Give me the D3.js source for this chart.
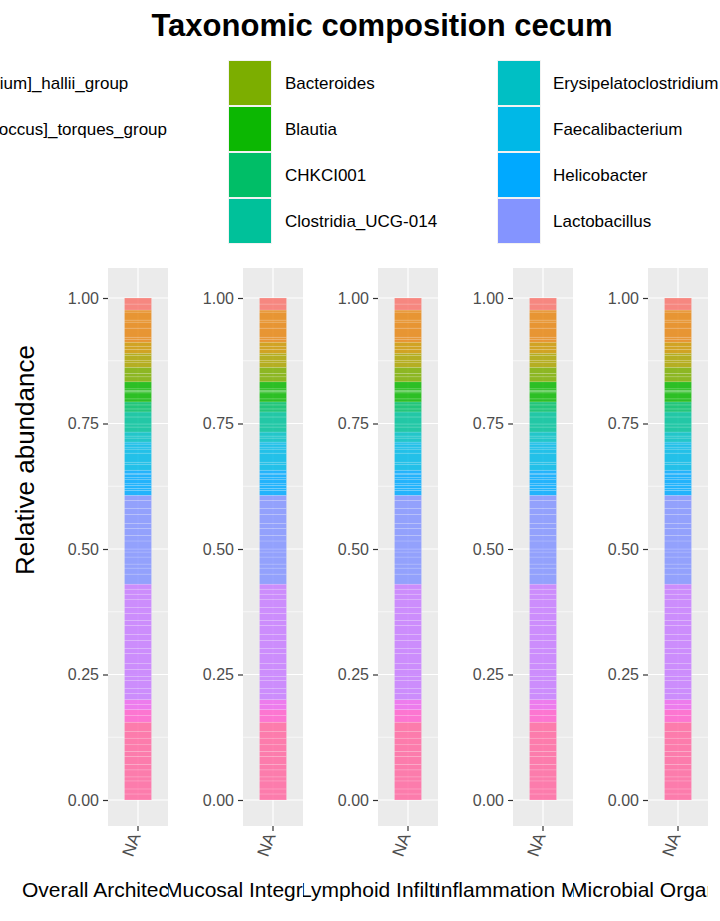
<!DOCTYPE html>
<html>
<head>
<meta charset="utf-8">
<script src="https://cdn.jsdelivr.net/npm/d3@7"></script>
<style>
body { margin: 0; background: #fff; overflow: hidden; }
text { font-family: Arial, "Liberation Sans", sans-serif; }
</style>
</head>
<body>
<script>
const W = 720, H = 921

const genera = ["[Eubacterium]_hallii_group", "[Ruminococcus]_torques_group", "A2", "Alistipes",
    "Bacteroides", "Blautia", "CHKCI001", "Clostridia_UCG-014",
    "Erysipelatoclostridium", "Faecalibacterium", "Helicobacter", "Lactobacillus",
    "Ligilactobacillus", "Muribaculaceae", "Oscillibacter", "uncultured"]

// sub-taxon abundances inside each genus (stacked as thin slices)
const slices = [
    [0.012, 0.012],
    [0.006, 0.004, 0.018, 0.012, 0.004, 0.016, 0.004],
    [0.008, 0.006, 0.008],
    [0.009, 0.004, 0.011, 0.004],
    [0.01, 0.007, 0.012],
    [0.006, 0.012, 0.003, 0.002, 0.003, 0.014],
    [0.006, 0.008, 0.006],
    [0.01, 0.006, 0.014, 0.01],
    [0.008, 0.004, 0.008],
    [0.012, 0.004, 0.018, 0.008, 0.004, 0.006, 0.004],
    [0.01, 0.004, 0.006, 0.003, 0.008, 0.004, 0.006, 0.003, 0.006],
    [0.02, 0.012, 0.008, 0.014, 0.01, 0.006, 0.016, 0.011, 0.014, 0.01, 0.018, 0.012, 0.016, 0.01],
    [0.012, 0.01, 0.016, 0.008, 0.014, 0.012, 0.02, 0.01, 0.016, 0.012, 0.018, 0.01, 0.014, 0.012, 0.016, 0.01, 0.01, 0.01],
    [0.01, 0.01],
    [0.013, 0.012],
    [0.012, 0.01, 0.016, 0.008, 0.014, 0.011, 0.016, 0.01, 0.013, 0.012, 0.015, 0.018]
]

const facets = ["Overall Architecture", "Mucosal Integrity", "Lymphoid Infiltration",
    "Inflammation Markers", "Microbial Organisms"]
const yTicks = [0, 0.25, 0.5, 0.75, 1]

// ggplot-style hue palette (polar LUV, c = 100, l = 65)
function polarLuv(h, c, l) {
    const hr = h * Math.PI / 180
    const u = c * Math.cos(hr), v = c * Math.sin(hr)
    const Xn = 95.047, Yn = 100, Zn = 108.883
    const un = 4 * Xn / (Xn + 15 * Yn + 3 * Zn), vn = 9 * Yn / (Xn + 15 * Yn + 3 * Zn)
    const Y = l > 8 ? Yn * Math.pow((l + 16) / 116, 3) : Yn * l / 903.3
    const up = u / (13 * l) + un, vp = v / (13 * l) + vn
    const X = 9 * Y * up / (4 * vp), Z = Y * (12 - 3 * up - 20 * vp) / (4 * vp)
    const x = X / 100, y = Y / 100, z = Z / 100
    const lin = [3.2406 * x - 1.5372 * y - 0.4986 * z,
        -0.9689 * x + 1.8758 * y + 0.0415 * z,
        0.0557 * x - 0.2040 * y + 1.0570 * z]
    const g = lin.map(t => {
        t = Math.max(0, Math.min(1, t))
        return Math.round(255 * (t <= 0.0031308 ? 12.92 * t : 1.055 * Math.pow(t, 1 / 2.4) - 0.055))
    })
    return d3.rgb(g[0], g[1], g[2]).formatHex()
}

const color = d3.scaleOrdinal().domain(genera)
    .range(genera.map((g, i) => polarLuv(15 + i * 360 / genera.length, 100, 65)))

const svg = d3.select("body").append("svg").attr("width", W).attr("height", H)

// title
svg.append("text").attr("x", 382).attr("y", 36).attr("text-anchor", "middle")
    .style("font-size", "31px").style("font-weight", "bold").text("Taxonomic composition cecum")

// legend, column-major 4 rows
const colX = [-130, 228, 497, 766]
const textX = [-73, 285, 553, 822]
genera.forEach((g, i) => {
    const c = Math.floor(i / 4), r = i % 4
    const y = 60 + r * 46
    svg.append("rect").attr("x", colX[c]).attr("y", y).attr("width", 44).attr("height", 46)
        .attr("fill", "#f2f2f2")
    svg.append("rect").attr("x", colX[c] + 1).attr("y", y + 1).attr("width", 42).attr("height", 44)
        .attr("fill", color(g))
    svg.append("text").attr("x", textX[c]).attr("y", y + 23).attr("dy", "0.35em")
        .style("font-size", "17px").text(g)
})

// stack the slices
const stacked = []
let acc = 0
for (let i = genera.length - 1; i >= 0; i--) {
    slices[i].forEach(v => { stacked.push({ g: genera[i], y0: acc, y1: acc + v }); acc += v })
}

const y = d3.scaleLinear().domain([0, 1]).range([800, 298])
const panelTop = 268, panelBot = 826
const step = 135, pw = 60

svg.append("text").attr("transform", "translate(34,460) rotate(-90)").attr("text-anchor", "middle")
    .style("font-size", "26px").text("Relative abundance")

const defs = svg.append("defs")

facets.forEach((f, k) => {
    const px = 108 + k * step
    const x = d3.scaleBand().domain(["NA"]).range([px, px + pw]).paddingInner(0.1).paddingOuter(0.55)
    const g = svg.append("g")
    g.append("rect").attr("x", px).attr("y", panelTop).attr("width", pw).attr("height", panelBot - panelTop)
        .attr("fill", "#ebebeb")
    ;[0.125, 0.375, 0.625, 0.875].forEach(t => g.append("line").attr("x1", px).attr("x2", px + pw)
        .attr("y1", y(t)).attr("y2", y(t)).attr("stroke", "#fff").attr("stroke-width", 0.6))
    yTicks.forEach(t => g.append("line").attr("x1", px).attr("x2", px + pw)
        .attr("y1", y(t)).attr("y2", y(t)).attr("stroke", "#fff").attr("stroke-width", 1.2))
    const cx = x("NA") + x.bandwidth() / 2
    g.append("line").attr("x1", cx).attr("x2", cx).attr("y1", panelTop).attr("y2", panelBot)
        .attr("stroke", "#fff").attr("stroke-width", 1.2)

    g.selectAll("rect.seg").data(stacked).enter().append("rect").attr("class", "seg")
        .attr("x", x("NA")).attr("width", x.bandwidth())
        .attr("y", d => y(d.y1)).attr("height", d => y(d.y0) - y(d.y1))
        .attr("fill", d => color(d.g)).attr("fill-opacity", 0.85)
        .attr("stroke", "#fff").attr("stroke-opacity", 0.3).attr("stroke-width", 0.5)

    const ya = g.append("g").attr("transform", "translate(" + px + ",0)")
        .call(d3.axisLeft(y).tickValues(yTicks).tickFormat(d3.format(".2f")).tickSize(5).tickPadding(4))
    ya.select(".domain").remove()
    ya.selectAll("line").attr("stroke", "#333").attr("stroke-width", 1.2)
    ya.selectAll("text").style("font-size", "16px").attr("fill", "#4d4d4d")

    const xa = g.append("g").attr("transform", "translate(0," + panelBot + ")")
        .call(d3.axisBottom(x).tickSize(5))
    xa.select(".domain").remove()
    xa.selectAll("line").attr("stroke", "#333").attr("stroke-width", 1.2)
    xa.selectAll("text").attr("transform", "rotate(-70)").attr("text-anchor", "end")
        .attr("x", -8).attr("y", 0).attr("dy", "0.35em").style("font-size", "17px").attr("fill", "#4d4d4d")

    // strip label, clipped to its strip
    const sx0 = k === 0 ? 0 : px - 75, sx1 = px + pw
    defs.append("clipPath").attr("id", "clip" + k).append("rect")
        .attr("x", sx0).attr("y", 865).attr("width", sx1 - sx0).attr("height", 55)
    svg.append("text").attr("clip-path", "url(#clip" + k + ")")
        .attr("x", k === 0 ? 22 : px - 78).attr("y", 890).attr("dy", "0.35em")
        .style("font-size", "21px").text(f)
})
</script>
</body>
</html>
